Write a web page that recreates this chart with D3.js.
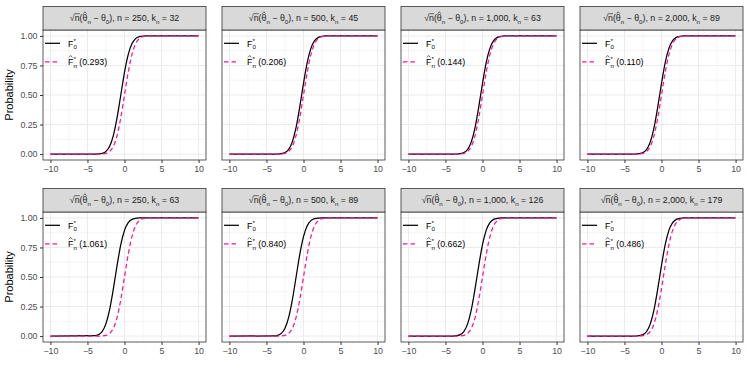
<!DOCTYPE html>
<html>
<head>
<meta charset="utf-8">
<script src="https://cdn.jsdelivr.net/npm/d3@7"></script>
<style>
body { margin: 0; background: #fff; }
text { font-family: "Liberation Sans", Arial, sans-serif; white-space: pre; }
</style>
</head>
<body>
<svg id="chart" width="750" height="375"></svg>
<script>
var xGrid = [-10, -4, -3.5, -3, -2.5, -2, -1.5, -1, -0.5, 0, 0.5, 1, 1.5, 2, 2.5, 3, 3.5, 4, 10];

// curves (probability at each xGrid point)
var cdfLeft125 = [0, .0030, .0122, .0401, .1056, .2266, .4013, .5987, .7734, .8944, .9599, .9878, .9970, .9994, .9999, 1, 1, 1, 1];
var cdfLeft100 = [0, .0013, .0062, .0228, .0668, .1587, .3085, .5, .6915, .8413, .9332, .9772, .9938, .9987, .9998, 1, 1, 1, 1];
var cdfLeft075 = [0, .0006, .0030, .0122, .0401, .1056, .2266, .4013, .5987, .7734, .8944, .9599, .9878, .9970, .9994, .9999, 1, 1, 1];
var cdfLeft050 = [0, .0002, .0013, .0062, .0228, .0668, .1587, .3085, .5, .6915, .8413, .9332, .9772, .9938, .9987, .9998, 1, 1, 1];
var cdfLeft025 = [0, .0001, .0006, .0030, .0122, .0401, .1056, .2266, .4013, .5987, .7734, .8944, .9599, .9878, .9970, .9994, .9999, 1, 1];
var cdfCentre  = [0, 0, .0002, .0013, .0062, .0228, .0668, .1587, .3085, .5, .6915, .8413, .9332, .9772, .9938, .9987, .9998, 1, 1];
var cdfRight025 = [0, 0, .0001, .0006, .0030, .0122, .0401, .1056, .2266, .4013, .5987, .7734, .8944, .9599, .9878, .9970, .9994, .9999, 1];

// panel labels
var nLabels = ["250", "500", "1,000", "2,000", "250", "500", "1,000", "2,000"];
var knLabels = ["32", "45", "63", "89", "63", "89", "126", "179"];
var distLabels = ["0.293", "0.206", "0.144", "0.110", "1.061", "0.840", "0.662", "0.486"];
var trueCurves = [cdfLeft050, cdfLeft025, cdfLeft025, cdfLeft025, cdfLeft125, cdfLeft100, cdfLeft075, cdfLeft025];
var estCurves = [cdfCentre, cdfCentre, cdfCentre, cdfCentre, cdfCentre, cdfCentre, cdfCentre, cdfRight025];

var xTicks = [-10, -5, 0, 5, 10];
var yTicks = [0, 0.25, 0.5, 0.75, 1];

var colLeft = [43, 222, 401, 580];
var stripTop = [6.5, 188.5];
var pw = 163, ph = 130, stripH = 23.5;
var pink = "#ff1493";

var svg = d3.select("#chart");

var xScale = d3.scaleLinear().domain([-11, 11]).range([0, pw]);
var yScale = d3.scaleLinear().domain([-0.05, 1.05]).range([ph, 0]);

var line = d3.line()
    .x(function (d) { return xScale(d[0]); })
    .y(function (d) { return yScale(d[1]); })
    .curve(d3.curveMonotoneX);

// lays out a small math label out of pieces, like plotmath does
function drawMath(g, parts, x, y, size, anchor, color) {
    var grp = g.append("g");
    var cx = 0, prevX = 0;
    var placed = [];
    parts.forEach(function (p) {
        var small = p.sub || p.sup;
        var fs = small ? size * 0.7 : size;
        var t = grp.append("text")
            .attr("font-size", fs)
            .attr("fill", color)
            .text(p.t);
        var w = t.node().getComputedTextLength();
        var px = p.stack ? prevX : cx;
        var dy = p.sub ? size * 0.32 : (p.sup ? -size * 0.42 : 0);
        t.attr("x", px).attr("y", dy);
        placed.push({ p: p, x: px, w: w });
        if (p.stack) cx = Math.max(cx, px + w);
        else cx = px + w;
        prevX = px;
    });
    placed.forEach(function (o) {
        if (o.p.hat) {
            var mx = o.x + o.w / 2;
            grp.append("path")
                .attr("d", "M" + (mx - o.w * 0.32) + "," + (-size * 0.86) +
                    "L" + mx + "," + (-size * 1.08) +
                    "L" + (mx + o.w * 0.32) + "," + (-size * 0.86))
                .attr("fill", "none")
                .attr("stroke", color)
                .attr("stroke-width", 0.6);
        }
        if (o.p.over) {
            grp.append("line")
                .attr("x1", o.x - 0.3).attr("x2", o.x + o.w + 0.3)
                .attr("y1", -size * 0.86).attr("y2", -size * 0.86)
                .attr("stroke", color)
                .attr("stroke-width", 0.6);
        }
    });
    var ox = anchor === "middle" ? x - cx / 2 : x;
    grp.attr("transform", "translate(" + ox + "," + y + ")");
    return grp;
}

function drawPanel(i) {
    var col = i % 4, row = Math.floor(i / 4);
    var panelLeft = colLeft[col];
    var panelTop = stripTop[row] + stripH;

    var g = svg.append("g").attr("transform", "translate(" + panelLeft + "," + panelTop + ")");

    // grid
    var minorX = [-7.5, -2.5, 2.5, 7.5];
    var minorY = [0.125, 0.375, 0.625, 0.875];
    g.selectAll(".mx").data(minorX).enter().append("line")
        .attr("x1", function (d) { return xScale(d); }).attr("x2", function (d) { return xScale(d); })
        .attr("y1", 0).attr("y2", ph)
        .attr("stroke", "#ebebeb").attr("stroke-width", 0.5);
    g.selectAll(".my").data(minorY).enter().append("line")
        .attr("y1", function (d) { return yScale(d); }).attr("y2", function (d) { return yScale(d); })
        .attr("x1", 0).attr("x2", pw)
        .attr("stroke", "#ebebeb").attr("stroke-width", 0.5);
    g.selectAll(".gx").data(xTicks).enter().append("line")
        .attr("x1", function (d) { return xScale(d); }).attr("x2", function (d) { return xScale(d); })
        .attr("y1", 0).attr("y2", ph)
        .attr("stroke", "#ebebeb").attr("stroke-width", 1);
    g.selectAll(".gy").data(yTicks).enter().append("line")
        .attr("y1", function (d) { return yScale(d); }).attr("y2", function (d) { return yScale(d); })
        .attr("x1", 0).attr("x2", pw)
        .attr("stroke", "#ebebeb").attr("stroke-width", 1);

    // curves
    var trueData = xGrid.map(function (x, k) { return [x, trueCurves[i][k]]; });
    var estData = xGrid.map(function (x, k) { return [x, estCurves[i][k]]; });
    g.append("path").datum(trueData)
        .attr("d", line).attr("fill", "none")
        .attr("stroke", "#000").attr("stroke-width", 1.25);
    g.append("path").datum(estData)
        .attr("d", line).attr("fill", "none")
        .attr("stroke", pink).attr("stroke-width", 1.25)
        .attr("stroke-dasharray", "4.5,3");

    // panel border
    g.append("rect").attr("width", pw).attr("height", ph)
        .attr("fill", "none").attr("stroke", "#333").attr("stroke-width", 0.8);

    // x axis
    var xa = g.append("g").attr("transform", "translate(0," + ph + ")")
        .call(d3.axisBottom(xScale).tickValues(xTicks).tickSize(3).tickPadding(2.5));
    xa.select(".domain").remove();
    xa.selectAll("line").attr("stroke", "#333");
    xa.selectAll("text").attr("fill", "#4d4d4d").attr("font-size", 8.8)
        .attr("font-family", "Liberation Sans, Arial, sans-serif");

    // y axis
    if (col === 0) {
        var ya = g.append("g")
            .call(d3.axisLeft(yScale).tickValues(yTicks).tickFormat(d3.format(".2f")).tickSize(3).tickPadding(2.5));
        ya.select(".domain").remove();
        ya.selectAll("line").attr("stroke", "#333");
        ya.selectAll("text").attr("fill", "#4d4d4d").attr("font-size", 8.8)
            .attr("font-family", "Liberation Sans, Arial, sans-serif");
        svg.append("text")
            .attr("transform", "translate(13," + (panelTop + ph / 2) + ") rotate(-90)")
            .attr("text-anchor", "middle")
            .attr("font-size", 11)
            .text("Probability");
    }

    // strip
    svg.append("rect")
        .attr("x", panelLeft).attr("y", stripTop[row])
        .attr("width", pw).attr("height", stripH)
        .attr("fill", "#d9d9d9").attr("stroke", "#333").attr("stroke-width", 0.8);
    drawMath(svg, [
        { t: "√" }, { t: "n", over: true }, { t: "(" }, { t: "θ", hat: true }, { t: "n", sub: true },
        { t: " − " }, { t: "θ" }, { t: "0", sub: true },
        { t: "), n = " + nLabels[i] + ", k" }, { t: "n", sub: true }, { t: " = " + knLabels[i] }
    ], panelLeft + pw / 2, stripTop[row] + stripH / 2 + 3, 8.8, "middle", "#1a1a1a");

    // legend inside the panel
    g.append("line").attr("x1", 2).attr("x2", 17).attr("y1", 13.3).attr("y2", 13.3)
        .attr("stroke", "#000").attr("stroke-width", 1.25);
    g.append("line").attr("x1", 2).attr("x2", 17).attr("y1", 31.8).attr("y2", 31.8)
        .attr("stroke", pink).attr("stroke-width", 1.25).attr("stroke-dasharray", "4.5,3");
    drawMath(g, [{ t: "F" }, { t: "*", sup: true }, { t: "0", sub: true, stack: true }],
        25, 16.5, 8.8, "start", "#000");
    drawMath(g, [{ t: "F", hat: true }, { t: "*", sup: true }, { t: "n", sub: true, stack: true },
        { t: " (" + distLabels[i] + ")" }],
        25, 35, 8.8, "start", "#000");
}

for (var i = 0; i < 8; i++) drawPanel(i);
</script>
</body>
</html>
